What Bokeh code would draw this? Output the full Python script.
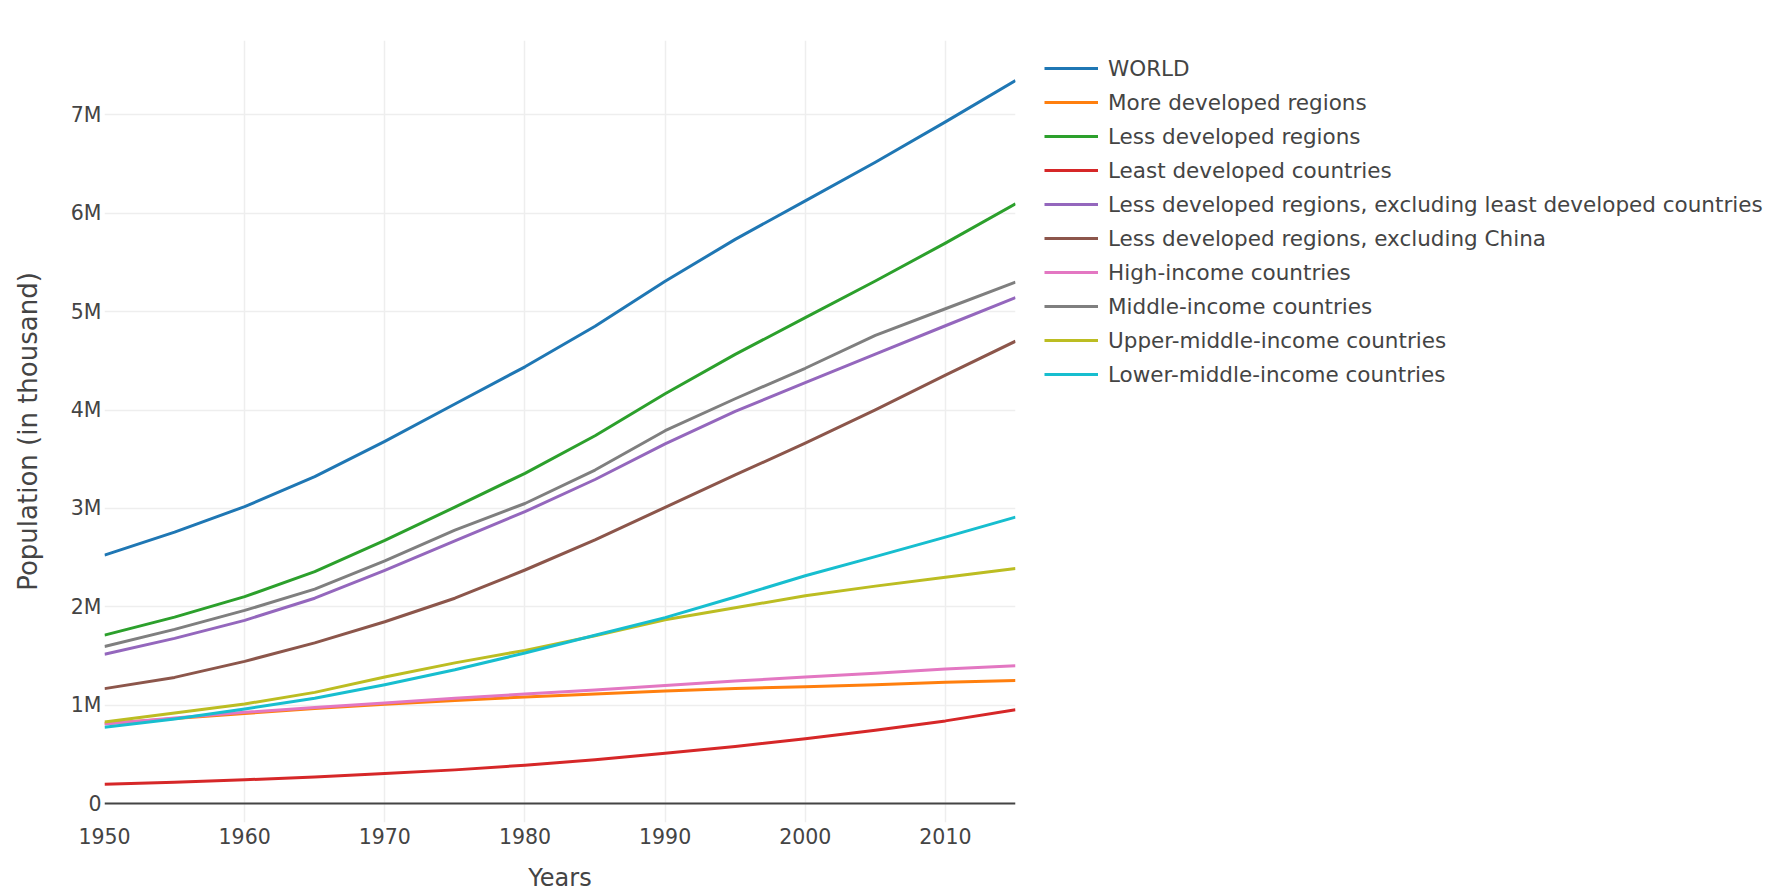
from bokeh.plotting import figure
from bokeh.layouts import row
from bokeh.models import (Legend, LegendItem, Span, FixedTicker,
                          CustomJSTickFormatter, Range1d)
from bokeh.embed import file_html
from bokeh.resources import INLINE

years = [1950, 1955, 1960, 1965, 1970, 1975, 1980, 1985, 1990, 1995, 2000, 2005, 2010, 2015]

world = [2525149, 2758315, 3018344, 3322495, 3682488, 4061399, 4439632, 4852541,
         5309668, 5735123, 6126622, 6519636, 6929725, 7349472]
more_developed = [813000, 863000, 915000, 966000, 1008000, 1048000, 1083000, 1114000,
                  1144000, 1169000, 1188000, 1208000, 1233000, 1251000]
less_developed = [1712000, 1895000, 2103000, 2357000, 2675000, 3013000, 3357000, 3739000,
                  4166000, 4566000, 4939000, 5312000, 5697000, 6098000]
least_developed = [195000, 216000, 241000, 270000, 304000, 342000, 390000, 445000,
                   510000, 580000, 659000, 744000, 840000, 954000]
less_dev_excl_ldc = [1517000, 1679000, 1862000, 2087000, 2371000, 2671000, 2967000, 3294000,
                     3656000, 3986000, 4280000, 4568000, 4857000, 5144000]
less_dev_excl_china = [1168000, 1282000, 1445000, 1633000, 1848000, 2087000, 2374000, 2681000,
                       3011000, 3340000, 3664000, 4001000, 4356000, 4700000]
high_income = [809000, 870000, 927000, 975000, 1022000, 1070000, 1113000, 1155000,
               1201000, 1245000, 1286000, 1325000, 1367000, 1401000]
middle_income = [1597000, 1770000, 1963000, 2180000, 2467000, 2780000, 3050000, 3390000,
                 3790000, 4115000, 4425000, 4760000, 5030000, 5300000]
upper_middle = [829000, 920000, 1012000, 1130000, 1286000, 1430000, 1557000, 1705000,
                1868000, 1990000, 2112000, 2210000, 2301000, 2389000]
lower_middle = [775000, 860000, 961000, 1070000, 1208000, 1360000, 1530000, 1710000,
                1890000, 2100000, 2315000, 2510000, 2708000, 2911000]

names = ["WORLD", "More developed regions", "Less developed regions",
         "Least developed countries",
         "Less developed regions, excluding least developed countries",
         "Less developed regions, excluding China", "High-income countries",
         "Middle-income countries", "Upper-middle-income countries",
         "Lower-middle-income countries"]
series = [world, more_developed, less_developed, least_developed, less_dev_excl_ldc,
          less_dev_excl_china, high_income, middle_income, upper_middle, lower_middle]
colors = ["#1f77b4", "#ff7f0e", "#2ca02c", "#d62728", "#9467bd",
          "#8c564b", "#e377c2", "#7f7f7f", "#bcbd22", "#17becf"]

x_ticks = [1950, 1960, 1970, 1980, 1990, 2000, 2010]
y_ticks = [0, 1000000, 2000000, 3000000, 4000000, 5000000, 6000000, 7000000]

FONT = "DejaVu Sans"
TXT = "#444444"

# ---- main chart ----
p = figure(width=1020, height=894, output_backend="svg", toolbar_location=None,
           x_range=Range1d(1950, 2015), y_range=Range1d(-193000, 7757000),
           min_border_left=104, min_border_top=40, min_border_right=5,
           min_border_bottom=71)
p.outline_line_color = None
p.background_fill_color = "white"

p.xgrid.grid_line_color = "#eeeeee"
p.ygrid.grid_line_color = "#eeeeee"
p.xgrid.grid_line_width = 1.5
p.ygrid.grid_line_width = 1.5

for ax in (p.xaxis[0], p.yaxis[0]):
    ax.axis_line_color = None
    ax.major_tick_line_color = None
    ax.minor_tick_line_color = None
    ax.major_tick_in = 0
    ax.major_tick_out = 0
    ax.minor_tick_in = 0
    ax.minor_tick_out = 0
    ax.major_label_text_font = FONT
    ax.major_label_text_font_size = "20.5px"
    ax.major_label_text_color = TXT
    ax.axis_label_text_font = FONT
    ax.axis_label_text_font_style = "normal"
    ax.axis_label_text_color = TXT

p.xaxis.ticker = FixedTicker(ticks=x_ticks)
p.yaxis.ticker = FixedTicker(ticks=y_ticks)
p.yaxis.formatter = CustomJSTickFormatter(
    code="return tick == 0 ? '0' : (Math.round(tick/1e6)) + 'M';")
p.xaxis.major_label_standoff = 5
p.yaxis.major_label_standoff = 3

p.yaxis.axis_label = "Population (in thousand)"
p.yaxis.axis_label_text_font_size = "26px"
p.yaxis.axis_label_standoff = 25

p.xaxis.axis_label = "Years"
p.xaxis.axis_label_text_font_size = "24px"
p.xaxis.axis_label_standoff = 17

zero = Span(location=0, dimension="width", line_color="#444444", line_width=2,
            level="underlay")
p.add_layout(zero)

for vals, col in zip(series, colors):
    p.line(years, vals, line_color=col, line_width=3, line_join="round")

# ---- legend panel (frame aligned with the main chart's frame) ----
q = figure(width=748, height=894, output_backend="svg", toolbar_location=None,
           x_axis_type=None, y_axis_type=None,
           x_range=Range1d(0, 1), y_range=Range1d(0, 1),
           min_border_left=0, min_border_right=0, min_border_top=0,
           min_border_bottom=0)
q.outline_line_color = None
q.grid.visible = False
q.background_fill_color = "white"

items = []
for name, vals, col in zip(names, series, colors):
    # same series, outside this panel's ranges: only the legend key shows
    r = q.line(years, vals, line_color=col, line_width=3)
    items.append(LegendItem(label=name, renderers=[r]))

legend = Legend(items=items, location=(24, 433), orientation="vertical",
                label_text_font=FONT, label_text_font_size="21.5px",
                label_text_color=TXT, glyph_width=54, glyph_height=30,
                label_height=30, spacing=4, padding=0, margin=0,
                label_standoff=10, border_line_alpha=0, background_fill_alpha=0)
q.add_layout(legend, "center")

layout = row(p, q)
open("out.html", "w").write(file_html(layout, INLINE))
